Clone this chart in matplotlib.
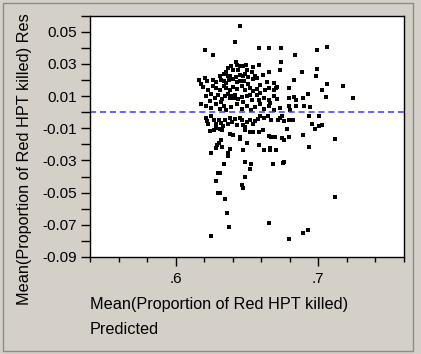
import matplotlib
matplotlib.use("Agg")
import matplotlib.pyplot as plt
from matplotlib.patches import Rectangle
from matplotlib.ticker import MultipleLocator, FuncFormatter

# predicted (x) and residual (y) pairs
pred = [
    0.6450, 0.6415, 0.6207, 0.6262, 0.6585, 0.6651, 0.6738, 0.6839, 0.6992, 0.7063,
    0.6738, 0.6728, 0.6651, 0.6882, 0.6992, 0.6985, 0.6827, 0.7063, 0.7174, 0.7028,
    0.7051, 0.7240, 0.6794, 0.6926, 0.6893, 0.6827, 0.6842, 0.6794, 0.6842, 0.6794,
    0.6898, 0.6938, 0.6804,
    0.6422, 0.6427, 0.6450, 0.6469, 0.6493, 0.6540, 0.6585, 0.6434, 0.6403,
    0.6339, 0.6356, 0.6368, 0.6384, 0.6420, 0.6450, 0.6469, 0.6486, 0.6509, 0.6533,
    0.6556, 0.6568,
    0.6167, 0.6207, 0.6179, 0.6222, 0.6262, 0.6285, 0.6316, 0.6339, 0.6356, 0.6375,
    0.6403, 0.6427, 0.6450, 0.6479, 0.6509, 0.6545, 0.6592, 0.6639, 0.6686, 0.6705,
    0.6191, 0.6226, 0.6262, 0.6285, 0.6309, 0.6337, 0.6356, 0.6380, 0.6403, 0.6427,
    0.6462, 0.6486, 0.6521, 0.6545, 0.6568, 0.6627, 0.6651, 0.6686, 0.6710,
    0.6215, 0.6250, 0.6273, 0.6297, 0.6328, 0.6344, 0.6368, 0.6384, 0.6398, 0.6415,
    0.6438, 0.6462, 0.6497, 0.6533, 0.6568, 0.6587, 0.6620, 0.6651, 0.6686, 0.6710,
    0.6179, 0.6215, 0.6250, 0.6285, 0.6309, 0.6337, 0.6356, 0.6391, 0.6427, 0.6462,
    0.6497, 0.6526, 0.6556, 0.6592, 0.6620, 0.6651, 0.6686, 0.6733,
    0.6368, 0.6391, 0.6309, 0.6497, 0.6615, 0.6521, 0.6592, 0.6238, 0.6321, 0.6474,
    0.6662, 0.6403, 0.6410,
    0.6215, 0.6222, 0.6226, 0.6250, 0.6266, 0.6281, 0.6304, 0.6321, 0.6332, 0.6344,
    0.6368, 0.6380, 0.6398, 0.6415, 0.6427, 0.6450, 0.6462, 0.6474, 0.6486, 0.6502,
    0.6521, 0.6545, 0.6556, 0.6580, 0.6592, 0.6620, 0.6644, 0.6667, 0.6714, 0.6733,
    0.6745, 0.6757, 0.6792, 0.6823, 0.6934, 0.7004, 0.6957, 0.6974, 0.7004, 0.7028,
    0.6238, 0.6266, 0.6285, 0.6309, 0.6328, 0.6384, 0.6403, 0.6450, 0.6450, 0.6486,
    0.6521, 0.6540, 0.6587, 0.6615, 0.6651, 0.6667, 0.6698, 0.6745, 0.6761, 0.6780,
    0.6792, 0.6893, 0.7115,
    0.6321, 0.6304, 0.6292, 0.6285, 0.6325, 0.6384, 0.6497, 0.6469, 0.6585, 0.6620,
    0.6658, 0.6662, 0.6705, 0.6936, 0.6250, 0.6368, 0.6370,
    0.6339, 0.6486, 0.6526, 0.6521, 0.6486, 0.6681, 0.6752, 0.6761, 0.6297, 0.6309,
    0.6281, 0.6462, 0.6474, 0.6297, 0.6309, 0.6349, 0.6361, 0.6372, 0.6250, 0.6651,
    0.6797, 0.6893, 0.6926, 0.7115,
]
resid = [
    0.0533, 0.0433, 0.0386, 0.0357, 0.0396, 0.0396, 0.0396, 0.0357, 0.0386, 0.0407,
    0.0309, 0.0259, 0.0251, 0.0251, 0.0270, 0.0222, 0.0201, 0.0172, 0.0162, 0.0135,
    0.0093, 0.0085, 0.0151, 0.0114, 0.0085, 0.0093, 0.0077, 0.0085, 0.0039, 0.0039,
    0.0039, 0.0031, 0.0014,
    0.0309, 0.0295, 0.0284, 0.0284, 0.0290, 0.0278, 0.0290, 0.0263, 0.0259,
    0.0239, 0.0247, 0.0226, 0.0222, 0.0218, 0.0232, 0.0222, 0.0236, 0.0218, 0.0249,
    0.0222, 0.0212,
    0.0201, 0.0209, 0.0176, 0.0191, 0.0201, 0.0187, 0.0197, 0.0191, 0.0180, 0.0201,
    0.0205, 0.0185, 0.0195, 0.0191, 0.0176, 0.0205, 0.0170, 0.0185, 0.0180, 0.0149,
    0.0156, 0.0139, 0.0160, 0.0149, 0.0135, 0.0164, 0.0149, 0.0139, 0.0156, 0.0143,
    0.0164, 0.0135, 0.0149, 0.0129, 0.0143, 0.0135, 0.0149, 0.0139, 0.0156,
    0.0097, 0.0114, 0.0087, 0.0108, 0.0081, 0.0097, 0.0114, 0.0087, 0.0097, 0.0108,
    0.0081, 0.0093, 0.0102, 0.0077, 0.0108, 0.0077, 0.0087, 0.0077, 0.0097, 0.0081,
    0.0052, 0.0039, 0.0025, 0.0052, 0.0019, 0.0039, 0.0014, 0.0031, 0.0052, 0.0019,
    0.0039, 0.0014, 0.0031, 0.0052, 0.0019, 0.0039, 0.0014, 0.0025,
    0.0274, 0.0288, 0.0222, 0.0263, 0.0232, 0.0108, 0.0118, 0.0066, 0.0060, 0.0060,
    0.0056, 0.0093, 0.0085,
    -0.0037, -0.0058, -0.0072, -0.0027, -0.0052, -0.0072, -0.0052, -0.0068, -0.0089, -0.0047,
    -0.0072, -0.0037, -0.0064, -0.0043, -0.0079, -0.0037, -0.0052, -0.0079, -0.0093, -0.0064,
    -0.0047, -0.0072, -0.0058, -0.0043, -0.0023, -0.0037, -0.0027, -0.0052, -0.0047, -0.0037,
    -0.0023, -0.0058, -0.0047, -0.0052, -0.0023, -0.0023, -0.0072, -0.0106, -0.0085, -0.0079,
    -0.0120, -0.0114, -0.0099, -0.0106, -0.0110, -0.0137, -0.0145, -0.0155, -0.0168, -0.0110,
    -0.0126, -0.0126, -0.0126, -0.0110, -0.0147, -0.0155, -0.0155, -0.0162, -0.0176, -0.0106,
    -0.0155, -0.0141, -0.0168,
    -0.0176, -0.0193, -0.0203, -0.0224, -0.0218, -0.0228, -0.0189, -0.0234, -0.0203, -0.0234,
    -0.0224, -0.0234, -0.0234, -0.0218, -0.0255, -0.0255, -0.0271,
    -0.0323, -0.0311, -0.0321, -0.0352, -0.0400, -0.0321, -0.0317, -0.0311, -0.0379, -0.0379,
    -0.0431, -0.0452, -0.0469, -0.0500, -0.0504, -0.0537, -0.0624, -0.0711, -0.0770, -0.0690,
    -0.0788, -0.0749, -0.0732, -0.0525,
]

W, H = 421, 354
bg = "#d4d0c8"
plt.rcParams["font.family"] = ["Liberation Sans", "DejaVu Sans"]

fig = plt.figure(figsize=(W / 100, H / 100), dpi=100, facecolor=bg)
# outer panel frame
fig.patches.append(Rectangle((3 / W, 3 / H), 410 / W, 348 / H, transform=fig.transFigure,
                             fill=False, edgecolor="#8c8c8c", linewidth=1))

ax = fig.add_axes([90 / W, 1 - 257 / H, 314 / W, 241.5 / H])
ax.set_facecolor("white")
ax.plot(pred, resid, "s", color="black", markersize=2.2, markeredgewidth=0)
ax.axhline(0, color="#3c3cff", linewidth=1.1, linestyle=(0, (4, 2.5)))

ax.set_xlim(0.54, 0.76)
ax.set_ylim(-0.09, 0.06)
ax.xaxis.set_major_locator(MultipleLocator(0.1))
ax.xaxis.set_minor_locator(MultipleLocator(0.02))
ax.xaxis.set_major_formatter(FuncFormatter(lambda v, p: f"{v:.1f}".lstrip("0")))
ax.yaxis.set_major_locator(MultipleLocator(0.01))
ax.yaxis.set_major_formatter(
    FuncFormatter(lambda v, p: f"{v:.2f}" if round(v * 100) % 2 else ""))
ax.tick_params(axis="x", which="major", length=6.5, width=1, direction="out",
               labelsize=11, pad=4)
ax.tick_params(axis="x", which="minor", length=3.5, width=1, direction="out")
ax.tick_params(axis="y", length=6.5, width=1, direction="out", labelsize=11, pad=3)
for s in ax.spines.values():
    s.set_linewidth(1)
    s.set_color("black")

fig.text(25 / W, 1 - 305 / H, "Mean(Proportion of Red HPT killed) Res", rotation=90,
         ha="center", va="bottom", fontsize=11.7)
fig.text(90 / W, 1 - 305 / H, "Mean(Proportion of Red HPT killed)", ha="left",
         va="center", fontsize=11.7)
fig.text(90 / W, 1 - 330 / H, "Predicted", ha="left", va="center", fontsize=11.7)

fig.savefig("out.png", dpi=100, facecolor=bg)
